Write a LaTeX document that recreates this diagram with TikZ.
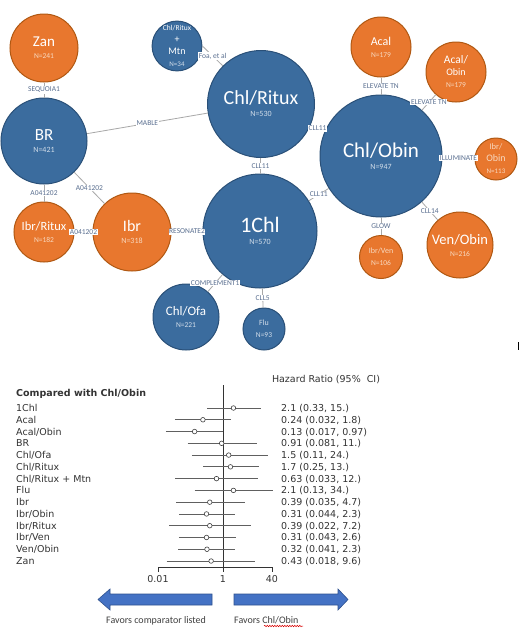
\documentclass[tikz,border=0pt]{standalone}
\usepackage{fontspec}
\setmainfont{Carlito}
\newfontfamily\dejavu{DejaVu Sans}
\usetikzlibrary{decorations.pathmorphing}
\definecolor{bfill}{HTML}{3B6C9E}
\definecolor{bdraw}{HTML}{2A5078}
\definecolor{ofill}{HTML}{E8772E}
\definecolor{odraw}{HTML}{B05812}
\definecolor{edgec}{HTML}{A8A8A8}
\definecolor{elab}{HTML}{5A6F90}
\definecolor{nlb}{HTML}{D3DEEA}
\definecolor{nlo}{HTML}{F8D9C0}
\definecolor{arrowc}{HTML}{4472C4}
\definecolor{arrowd}{HTML}{2F528F}
\definecolor{ftext}{HTML}{333333}
\definecolor{ciline}{HTML}{606060}
\newcommand\nlab[3]{{\fontsize{#1}{#1}\selectfont\color{#2}#3}}
\newcommand\xv[1]{223+32.4*log10(#1)}
\begin{document}
\begin{tikzpicture}[x=1pt,y=-1pt,
  ball/.style={circle, line width=1pt, inner sep=0pt, align=center, text=white},
  bball/.style={ball, fill=bfill, draw=bdraw},
  oball/.style={ball, fill=ofill, draw=odraw},
  link/.style={draw=edgec, line width=0.8pt},
  elabel/.style={font=\fontsize{7.5}{8}\selectfont, text=elab, fill=white, inner sep=0.6pt},
  ftxt/.style={font=\dejavu\fontsize{9.5}{11}\selectfont, text=ftext, inner sep=0pt},
  bigarrow/.style={fill=arrowc, draw=arrowd, line width=0.6pt},
  favtxt/.style={font=\fontsize{10}{11}\selectfont, text=black!75, inner sep=0pt}]
\useasboundingbox (0,0) rectangle (520,633);
\fill[white] (0,0) rectangle (520,633);

% ---------- network ----------
\node[oball, minimum size=68pt] (zan) at (44,48) {\fontsize{15}{14}\selectfont Zan\\\nlab{7.5}{nlo}{N=241}};
\node[bball, minimum size=44pt] (mtn) at (177,46) {\fontsize{7.5}{9.7}\selectfont Chl/Ritux\\+\\Mtn\\\nlab{7}{nlb}{N=34}};
\node[bball, minimum size=86pt] (br) at (44,141) {\fontsize{17}{15}\selectfont BR\\\nlab{8}{nlb}{N=421}};
\node[bball, minimum size=107pt] (chr) at (261,104) {\fontsize{20}{16}\selectfont Chl/Ritux\\\nlab{8}{nlb}{N=530}};
\node[oball, minimum size=60pt] (acal) at (381,47) {\fontsize{12}{12}\selectfont Acal\\\nlab{7.5}{nlo}{N=179}};
\node[oball, minimum size=60pt] (acob) at (456,72) {\fontsize{11.5}{12.5}\selectfont Acal/\\Obin\\\nlab{7.5}{nlo}{N=179}};
\node[bball, minimum size=122pt] (cob) at (381,156) {\fontsize{21}{17}\selectfont Chl/Obin\\\nlab{8}{nlb}{N=947}};
\node[oball, minimum size=42pt, text=nlo] (ibo) at (496,159) {\fontsize{8.5}{12}\selectfont Ibr/\\Obin\\\nlab{7}{nlo}{N=113}};
\node[oball, minimum size=60pt] (ibrr) at (44,232) {\fontsize{12.5}{13}\selectfont Ibr/Ritux\\\nlab{7.5}{nlo}{N=182}};
\node[oball, minimum size=78pt] (ibr) at (132,232) {\fontsize{16}{14}\selectfont Ibr\\\nlab{8}{nlo}{N=318}};
\node[bball, minimum size=114pt] (one) at (260,231) {\fontsize{22}{16}\selectfont 1Chl\\\nlab{8}{nlb}{N=570}};
\node[oball, minimum size=43pt, text=nlo] (ibv) at (381,257) {\fontsize{8}{10}\selectfont Ibr/Ven\\\nlab{7.5}{nlo}{N=106}};
\node[oball, minimum size=66pt] (vob) at (460,245) {\fontsize{14.5}{12}\selectfont Ven/Obin\\\nlab{7.5}{nlo}{N=216}};
\node[bball, minimum size=66pt] (ofa) at (186,317) {\fontsize{13}{11}\selectfont Chl/Ofa\\\nlab{7.5}{nlb}{N=221}};
\node[bball, minimum size=42pt, text=nlb] (flu) at (264,329) {\fontsize{8}{11}\selectfont Flu\\\nlab{7.5}{nlb}{N=93}};

\draw[link] (zan) -- node[elabel]{SEQUOIA1} (br);
\draw[link] (br) -- node[elabel]{MABLE} (chr);
\draw[link] (mtn.east) -- node[elabel]{Foa, et al} (chr.135);
\draw[link] (chr) -- node[elabel]{CLL11} (cob);
\draw[link] (chr) -- node[elabel]{CLL11} (one);
\draw[link] (one) -- node[elabel]{CLL11} (cob);
\draw[link] (acal) -- node[elabel]{ELEVATE TN} (cob);
\draw[link] (acob) -- node[elabel]{ELEVATE TN} (cob);
\draw[link] (cob) -- node[elabel]{ILLUMINATE} (ibo);
\draw[link] (cob) -- node[elabel]{GLOW} (ibv);
\draw[link] (cob) -- node[elabel]{CLL14} (vob);
\draw[link] (br) -- node[elabel]{A041202} (ibrr);
\draw[link] (br) -- node[elabel]{A041202} (ibr);
\draw[link] (ibrr) -- node[elabel]{A041202} (ibr);
\draw[link] (ibr) -- node[elabel]{RESONATE2} (one);
\draw[link] (one) -- node[elabel]{COMPLEMENT1} (ofa);
\draw[link] (one) -- node[elabel]{CLL5} (flu);

\draw[line width=0.7pt] (518,342) -- (518,350);

% ---------- forest plot ----------
\node[ftxt, anchor=base] (hdr) at (326,382.5) {Hazard Ratio (95\%~~CI)};
\node[ftxt, anchor=base west, font=\dejavu\bfseries\fontsize{9.5}{11}\selectfont] (cmp) at (16,396.5) {Compared with Chl/Obin};
\draw[black!80, line width=0.7pt] (223,385) -- (223,567);
\foreach \lab/\hr/\lo/\hi/\txt [count=\i from 0] in {
  1Chl/2.1/0.33/15/{2.1 (0.33, 15.)},
  Acal/0.24/0.032/1.8/{0.24 (0.032, 1.8)},
  Acal\slash Obin/0.13/0.017/0.97/{0.13 (0.017, 0.97)},
  BR/0.91/0.081/11/{0.91 (0.081, 11.)},
  Chl\slash Ofa/1.5/0.11/24/{1.5 (0.11, 24.)},
  Chl\slash Ritux/1.7/0.25/13/{1.7 (0.25, 13.)},
  Chl\slash Ritux + Mtn/0.63/0.033/12/{0.63 (0.033, 12.)},
  Flu/2.1/0.13/34/{2.1 (0.13, 34.)},
  Ibr/0.39/0.035/4.7/{0.39 (0.035, 4.7)},
  Ibr\slash Obin/0.31/0.044/2.3/{0.31 (0.044, 2.3)},
  Ibr\slash Ritux/0.39/0.022/7.2/{0.39 (0.022, 7.2)},
  Ibr\slash Ven/0.31/0.043/2.6/{0.31 (0.043, 2.6)},
  Ven\slash Obin/0.32/0.041/2.3/{0.32 (0.041, 2.3)},
  Zan/0.43/0.018/9.6/{0.43 (0.018, 9.6)}}{
  \pgfmathsetmacro\yy{408+11.77*\i}
  \node[ftxt, anchor=base west] (r\i) at (16,\yy+3.5) {\lab};
  \node[ftxt, anchor=base west] (v\i) at (281,\yy+3.5) {\txt};
  \draw[ciline, line width=0.8pt] ({\xv{\lo}},\yy) -- ({\xv{\hi}},\yy);
  \draw[black!75, fill=white, line width=0.6pt] ({\xv{\hr}},\yy) circle[radius=2.3pt];
}
\draw[black!80, line width=0.7pt] (158,572) -- (158,567) -- (272,567) -- (272,572);
\draw[black!80, line width=0.7pt] (223,567) -- (223,572);
\node[ftxt, anchor=base] (t1) at (158,582) {0.01};
\node[ftxt, anchor=base] (t2) at (223,582) {1};
\node[ftxt, anchor=base] (t3) at (272,582) {40};

% ---------- arrows ----------
\draw[bigarrow] (212,594) -- (110,594) -- (110,589) -- (98,599.5) -- (110,610) -- (110,605) -- (212,605) -- cycle;
\draw[bigarrow] (234,594) -- (338,594) -- (338,589) -- (348,599.5) -- (338,610) -- (338,605) -- (234,605) -- cycle;
\node[favtxt, anchor=base west] (fl) at (106,623) {Favors comparator listed};
\node[favtxt, anchor=base west] (fr) at (234,623) {Favors Chl/Obin};
\draw[red!85!black, line width=0.5pt, decorate, decoration={snake, amplitude=0.7pt, segment length=2.5pt}] (264,626) -- (303,626);
\end{tikzpicture}
\end{document}
